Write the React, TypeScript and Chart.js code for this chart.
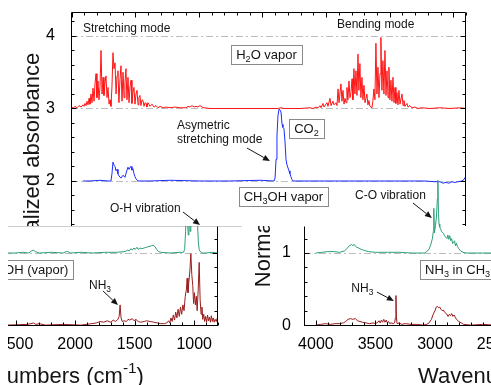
import React, { useEffect, useRef } from 'react';
import { Chart, registerables } from 'chart.js';

Chart.register(...registerables);

const FONT = '"Liberation Sans", Arial, Helvetica, sans-serif';

type Pair = [number, number];

// ---------- Top panel: H2O vapor (red) and CO2 (blue), wavenumber (cm-1) vs normalized absorbance ----------
const H2O_VAPOR: Pair[] = [
  [4005, 3.0], [3997, 3.02], [3989, 3.0], [3974, 3.03], [3958, 3.01], [3942, 3.04], [3926, 3.02], [3911, 3.05],
  [3903, 3.03], [3895, 3.07], [3887, 3.04], [3879, 3.1], [3871, 3.05], [3863, 3.14], [3856, 3.06], [3848, 3.2],
  [3840, 3.08], [3832, 3.28], [3824, 3.1], [3816, 3.35], [3808, 3.48], [3801, 3.15], [3793, 3.38], [3785, 3.12],
  [3777, 3.3], [3769, 3.8], [3761, 3.2], [3753, 3.43], [3746, 3.18], [3738, 3.35], [3730, 3.45], [3722, 3.15],
  [3714, 3.29], [3706, 3.06], [3698, 3.12], [3691, 3.03], [3683, 3.3], [3675, 3.77], [3667, 3.55], [3659, 3.63],
  [3651, 3.2], [3643, 3.45], [3636, 3.52], [3628, 3.08], [3620, 3.4], [3612, 3.59], [3604, 3.1], [3596, 3.5],
  [3588, 3.15], [3581, 3.35], [3573, 3.55], [3565, 3.12], [3557, 3.43], [3549, 3.08], [3541, 3.3], [3533, 3.39],
  [3526, 3.07], [3518, 3.22], [3510, 3.29], [3502, 3.06], [3494, 3.2], [3486, 3.25], [3478, 3.05], [3471, 3.15],
  [3463, 3.18], [3455, 3.04], [3447, 3.12], [3439, 3.11], [3431, 3.03], [3423, 3.08], [3415, 3.07], [3408, 3.02],
  [3400, 3.08], [3384, 3.03], [3368, 3.06], [3352, 3.02], [3337, 3.04], [3321, 3.01], [3305, 3.03], [3282, 3.01],
  [3258, 3.02], [3227, 3.01], [3188, 3.02], [3148, 3.01], [3101, 3.01], [3085, 3.03], [3070, 3.02], [3054, 3.04],
  [3038, 3.02], [3022, 3.03], [3007, 3.02], [2991, 3.04], [2975, 3.02], [2960, 3.01], [2912, 3.0], [2755, 3.0],
  [2598, 3.0], [2441, 3.0], [2378, 3.0], [2354, 3.01], [2331, 3.0], [2205, 3.0], [2126, 3.01], [2102, 3.0],
  [2079, 3.02], [2063, 3.01], [2048, 3.04], [2040, 3.01], [2024, 3.07], [2016, 3.02], [1993, 3.08], [1985, 3.03],
  [1969, 3.14], [1961, 3.04], [1946, 3.1], [1938, 3.05], [1922, 3.08], [1914, 3.04], [1906, 3.27], [1898, 3.08],
  [1883, 3.34], [1875, 3.1], [1867, 3.25], [1859, 3.06], [1851, 3.14], [1843, 3.08], [1836, 3.29], [1828, 3.12],
  [1820, 3.38], [1812, 3.15], [1804, 3.22], [1796, 3.41], [1789, 3.12], [1781, 3.55], [1773, 3.2], [1765, 3.52],
  [1757, 3.18], [1749, 3.75], [1742, 3.25], [1734, 3.62], [1726, 3.15], [1718, 3.43], [1710, 3.12], [1702, 3.32],
  [1694, 3.08], [1679, 3.2], [1671, 3.05], [1663, 3.11], [1655, 3.03], [1639, 3.01], [1632, 3.1], [1624, 3.27],
  [1616, 3.12], [1608, 3.9], [1600, 3.2], [1592, 3.57], [1584, 3.15], [1576, 3.48], [1569, 3.98], [1561, 3.25],
  [1553, 3.66], [1545, 3.2], [1537, 3.8], [1529, 3.18], [1521, 3.52], [1513, 3.15], [1506, 3.57], [1498, 3.12],
  [1490, 3.39], [1482, 3.1], [1474, 3.43], [1466, 3.08], [1458, 3.29], [1451, 3.07], [1443, 3.22], [1435, 3.05],
  [1427, 3.25], [1419, 3.06], [1403, 3.2], [1395, 3.04], [1388, 3.11], [1380, 3.03], [1364, 3.07], [1356, 3.02],
  [1341, 3.04], [1325, 3.01], [1301, 3.02], [1278, 3.0], [1246, 3.01], [1183, 3.0], [1105, 3.01], [1026, 3.0],
  [948, 3.01], [900, 3.0],
];

const CO2: Pair[] = [
  [3911, 2.0], [3856, 2.0], [3777, 2.01], [3714, 2.0], [3691, 2.0], [3683, 2.1], [3675, 2.26], [3667, 2.22],
  [3659, 2.2], [3651, 2.14], [3643, 2.16], [3636, 2.1], [3628, 2.07], [3612, 2.04], [3596, 2.08], [3581, 2.05],
  [3565, 2.15], [3557, 2.19], [3549, 2.16], [3541, 2.19], [3533, 2.2], [3526, 2.15], [3518, 2.17], [3510, 2.1],
  [3502, 2.06], [3494, 2.03], [3478, 2.0], [3384, 2.0], [3227, 2.01], [2991, 2.0], [2755, 2.0], [2519, 2.01],
  [2409, 2.0], [2401, 2.04], [2393, 2.3], [2386, 2.62], [2378, 2.9], [2370, 2.99], [2362, 2.98], [2354, 2.95],
  [2346, 2.78], [2339, 2.74], [2331, 2.72], [2323, 2.55], [2315, 2.3], [2307, 2.22], [2299, 2.18], [2291, 2.14],
  [2284, 2.1], [2276, 2.06], [2268, 2.02], [2260, 2.0], [2048, 2.0], [1812, 2.0], [1576, 2.0], [1341, 2.0],
  [1222, 2.0], [1144, 1.99], [1105, 1.99], [1081, 1.97], [1058, 1.98], [1034, 1.97], [1011, 1.99], [987, 1.98],
  [963, 1.99], [932, 2.0], [916, 2.02], [900, 2.07],
];

// ---------- Lower-left panel: CH3OH (vapor) (green) and NH3 (brown) ----------
const LL_METHANOL: Pair[] = [
  [2570, 1.0], [2500, 1.0], [2440, 1.01], [2390, 1.0], [2365, 1.03], [2350, 1.04], [2335, 1.02], [2300, 1.0],
  [2200, 1.01], [2100, 1.0], [2075, 1.02], [2060, 1.02], [2040, 1.0], [1950, 1.01], [1850, 1.0], [1750, 1.01],
  [1650, 1.01], [1580, 1.02], [1560, 1.04], [1545, 1.03], [1530, 1.06], [1520, 1.04], [1505, 1.07], [1495, 1.05],
  [1480, 1.08], [1470, 1.05], [1455, 1.07], [1440, 1.06], [1420, 1.07], [1400, 1.08], [1380, 1.09], [1360, 1.1],
  [1345, 1.11], [1330, 1.09], [1315, 1.05], [1300, 1.02], [1280, 1.01], [1200, 1.0], [1120, 1.01], [1090, 1.01],
  [1080, 1.05], [1072, 1.3], [1068, 1.7], [1062, 1.8], [1055, 1.4], [1050, 1.25], [1044, 1.35], [1040, 1.75],
  [1034, 1.3], [1028, 1.6], [1020, 1.45], [1012, 1.7], [1000, 1.6], [990, 1.5], [980, 1.55], [972, 1.4],
  [965, 1.15], [958, 1.05], [950, 1.02], [930, 1.0], [900, 1.0], [850, 1.01], [800, 1.0],
];

const LL_AMMONIA: Pair[] = [
  [2570, 0.0], [2400, 0.01], [2370, 0.02], [2350, 0.03], [2330, 0.01], [2300, 0.02], [2250, 0.0], [2100, 0.01],
  [1950, 0.0], [1860, 0.02], [1820, 0.03], [1790, 0.05], [1760, 0.04], [1730, 0.06], [1700, 0.04], [1680, 0.07],
  [1660, 0.05], [1640, 0.08], [1630, 0.12], [1622, 0.28], [1614, 0.1], [1605, 0.05], [1590, 0.06], [1570, 0.05],
  [1555, 0.08], [1540, 0.07], [1520, 0.09], [1505, 0.06], [1490, 0.08], [1470, 0.05], [1450, 0.04], [1420, 0.05],
  [1400, 0.06], [1370, 0.05], [1340, 0.04], [1310, 0.03], [1280, 0.02], [1250, 0.02], [1230, 0.03], [1215, 0.06],
  [1205, 0.03], [1195, 0.1], [1185, 0.05], [1175, 0.14], [1165, 0.07], [1155, 0.18], [1145, 0.1], [1135, 0.22],
  [1125, 0.12], [1115, 0.25], [1105, 0.15], [1095, 0.28], [1085, 0.2], [1075, 0.4], [1065, 0.5], [1059, 0.65],
  [1052, 0.45], [1045, 0.6], [1036, 0.75], [1028, 0.99], [1020, 0.7], [1012, 0.55], [1005, 0.3], [998, 0.45],
  [990, 0.28], [982, 0.4], [975, 0.2], [966, 0.5], [958, 0.87], [950, 0.35], [942, 0.15], [935, 0.25],
  [928, 0.08], [920, 0.15], [912, 0.05], [904, 0.12], [896, 0.04], [888, 0.14], [880, 0.06], [872, 0.11],
  [864, 0.04], [856, 0.13], [848, 0.05], [840, 0.1], [832, 0.04], [824, 0.08], [815, 0.05], [808, 0.09], [800, 0.06],
];

// ---------- Lower-right panel: NH3 in CH3OH (green / brown) ----------
const LR_METHANOL: Pair[] = [
  [4000, 1.0], [3950, 1.01], [3900, 1.02], [3850, 1.02], [3800, 1.01], [3760, 1.03], [3740, 1.06], [3720, 1.1],
  [3700, 1.12], [3690, 1.1], [3680, 1.12], [3660, 1.08], [3640, 1.07], [3620, 1.05], [3600, 1.04], [3580, 1.03],
  [3560, 1.02], [3500, 1.01], [3400, 1.01], [3300, 1.01], [3200, 1.0], [3090, 1.0], [3070, 1.02], [3050, 1.05],
  [3035, 1.12], [3022, 1.2], [3014, 1.3], [3010, 1.62], [3005, 1.28], [2996, 1.38], [2988, 1.5], [2980, 1.75],
  [2976, 2.01], [2971, 1.55], [2966, 1.4], [2960, 1.36], [2952, 1.33], [2944, 1.3], [2936, 1.28], [2928, 1.27],
  [2920, 1.24], [2910, 1.22], [2900, 1.2], [2892, 1.25], [2884, 1.19], [2876, 1.24], [2868, 1.17], [2860, 1.2],
  [2852, 1.13], [2844, 1.15], [2836, 1.17], [2828, 1.1], [2820, 1.14], [2812, 1.09], [2800, 1.06], [2785, 1.03],
  [2765, 1.01], [2740, 1.0], [2600, 1.0], [2500, 1.0],
];

const LR_AMMONIA: Pair[] = [
  [4000, 0.0], [3960, 0.01], [3920, 0.02], [3880, 0.01], [3840, 0.02], [3800, 0.02], [3770, 0.03], [3750, 0.05],
  [3730, 0.08], [3710, 0.09], [3690, 0.08], [3670, 0.09], [3650, 0.06], [3630, 0.05], [3610, 0.04], [3580, 0.03],
  [3550, 0.02], [3520, 0.03], [3500, 0.02], [3480, 0.04], [3470, 0.06], [3460, 0.03], [3450, 0.07], [3440, 0.04],
  [3430, 0.08], [3420, 0.04], [3410, 0.07], [3400, 0.03], [3390, 0.05], [3380, 0.02], [3370, 0.03], [3350, 0.02],
  [3340, 0.03], [3332, 0.1], [3328, 0.41], [3324, 0.1], [3318, 0.02], [3300, 0.03], [3280, 0.01], [3250, 0.02],
  [3200, 0.01], [3150, 0.01], [3100, 0.0], [3070, 0.01], [3050, 0.03], [3030, 0.08], [3015, 0.15], [3000, 0.2],
  [2990, 0.25], [2980, 0.26], [2970, 0.24], [2960, 0.25], [2950, 0.22], [2940, 0.2], [2930, 0.21], [2920, 0.18],
  [2905, 0.16], [2890, 0.12], [2880, 0.15], [2870, 0.13], [2860, 0.16], [2850, 0.12], [2840, 0.14], [2830, 0.11],
  [2820, 0.08], [2800, 0.05], [2780, 0.03], [2760, 0.01], [2700, 0.0], [2600, 0.01], [2500, 0.0],
];

// ---------- Axis ticks / reference levels ----------
const TOP_Y_TICKS = [0, 1, 2, 3, 4];
const LOWER_X_TICKS = [4000, 3500, 3000, 2500, 2000, 1500, 1000];
const LOWER_Y_TICKS = [0, 1];
const TOP_LEVELS = [2, 3, 4];
const LOWER_LEVELS = [0, 1];

const RED = '#ff1414';
const BLUE = '#1a2cff';
const GREEN = '#2b9f78';
const BROWN = '#9a1c1c';
const TEXT = '#141414';

// ---------- rich text helpers ----------
type Seg = { t: string; m: string };
function parseRich(s: string): Seg[] {
  const out: Seg[] = [];
  const re = /([_^])\{([^}]*)\}/g;
  let last = 0;
  let m: RegExpExecArray | null;
  while ((m = re.exec(s))) {
    if (m.index > last) out.push({ t: s.slice(last, m.index), m: '' });
    out.push({ t: m[2], m: m[1] });
    last = re.lastIndex;
  }
  if (last < s.length) out.push({ t: s.slice(last), m: '' });
  return out;
}
function richWidth(ctx: CanvasRenderingContext2D, segs: Seg[], size: number) {
  let w = 0;
  for (const sg of segs) {
    ctx.font = `${sg.m ? size * 0.7 : size}px ${FONT}`;
    w += ctx.measureText(sg.t).width;
  }
  return w;
}
function drawRich(ctx: CanvasRenderingContext2D, s: string, x: number, cy: number, size: number, align: string) {
  const segs = parseRich(s);
  const w = richWidth(ctx, segs, size);
  let cx = align === 'left' ? x : align === 'right' ? x - w : x - w / 2;
  const base = cy + size * 0.35;
  ctx.fillStyle = TEXT;
  ctx.textAlign = 'left';
  ctx.textBaseline = 'alphabetic';
  for (const sg of segs) {
    const fs = sg.m ? size * 0.7 : size;
    ctx.font = `${fs}px ${FONT}`;
    const by = sg.m === '_' ? base + size * 0.22 : sg.m === '^' ? base - size * 0.42 : base;
    ctx.fillText(sg.t, cx, by);
    cx += ctx.measureText(sg.t).width;
  }
  return w;
}
function drawArrow(ctx: CanvasRenderingContext2D, x1: number, y1: number, x2: number, y2: number) {
  const a = Math.atan2(y2 - y1, x2 - x1);
  const L = 7, W = 3;
  const bx = x2 - L * Math.cos(a), by = y2 - L * Math.sin(a);
  ctx.strokeStyle = TEXT;
  ctx.fillStyle = TEXT;
  ctx.lineWidth = 1;
  ctx.beginPath();
  ctx.moveTo(x1, y1);
  ctx.lineTo(bx, by);
  ctx.stroke();
  ctx.beginPath();
  ctx.moveTo(x2, y2);
  ctx.lineTo(bx + W * Math.sin(a), by - W * Math.cos(a));
  ctx.lineTo(bx - W * Math.sin(a), by + W * Math.cos(a));
  ctx.closePath();
  ctx.fill();
}

type Note = { kind: string; at: Pair; to?: Pair; label?: string; size?: number; align?: string };
type Decor = {
  levels: number[];
  sides: string[];
  xMinor: number; xMajor: number; yMinor: number; yMajor: number;
  notes: Note[];
  yTitle?: { text: string; dx: number; dy: number; clipTop?: boolean };
  xTitle?: { text: string; dx: number; dy: number };
};

function makeDecor(d: Decor) {
  return {
    id: 'decor',
    beforeDatasetsDraw(chart: any) {
      const { ctx, chartArea: ca, scales } = chart;
      ctx.save();
      ctx.strokeStyle = '#bdbdbd';
      ctx.lineWidth = 1;
      ctx.setLineDash([7, 3, 2, 3]);
      for (const lv of d.levels) {
        const py = Math.round(scales.y.getPixelForValue(lv)) + 0.5;
        ctx.beginPath();
        ctx.moveTo(ca.left, py);
        ctx.lineTo(ca.right, py);
        ctx.stroke();
      }
      ctx.restore();
    },
    afterDraw(chart: any) {
      const { ctx, chartArea: ca, scales } = chart;
      const xs = scales.x, ys = scales.y;
      const L = Math.round(ca.left) + 0.5, R = Math.round(ca.right) - 0.5;
      const T = Math.round(ca.top) + 0.5, B = Math.round(ca.bottom) - 0.5;
      ctx.save();
      ctx.setLineDash([]);
      ctx.strokeStyle = '#000';
      ctx.lineWidth = 1;
      ctx.beginPath();
      if (d.sides.includes('left')) { ctx.moveTo(L, T); ctx.lineTo(L, B + 0.5); }
      if (d.sides.includes('right')) { ctx.moveTo(R, T); ctx.lineTo(R, B + 0.5); }
      if (d.sides.includes('top')) { ctx.moveTo(L, T); ctx.lineTo(R, T); }
      if (d.sides.includes('bottom')) { ctx.moveTo(L, B); ctx.lineTo(R, B); }
      // inward ticks
      const isMajor = (v: number, step: number) => Math.abs(v / step - Math.round(v / step)) < 1e-6;
      for (let v = Math.ceil(xs.min / d.xMinor) * d.xMinor; v <= xs.max + 1e-9; v += d.xMinor) {
        const px = Math.round(xs.getPixelForValue(v)) + 0.5;
        const len = isMajor(v, d.xMajor) ? 5 : 3;
        if (d.sides.includes('top')) { ctx.moveTo(px, T); ctx.lineTo(px, T + len); }
        if (d.sides.includes('bottom')) { ctx.moveTo(px, B); ctx.lineTo(px, B - len); }
      }
      for (let i = Math.ceil(ys.min / d.yMinor); i * d.yMinor <= ys.max + 1e-9; i++) {
        const v = i * d.yMinor;
        const py = Math.round(ys.getPixelForValue(v)) + 0.5;
        const len = isMajor(v, d.yMajor) ? 5 : 3;
        if (d.sides.includes('left')) { ctx.moveTo(L, py); ctx.lineTo(L + len, py); }
        if (d.sides.includes('right')) { ctx.moveTo(R, py); ctx.lineTo(R - len, py); }
      }
      ctx.stroke();

      // annotations
      for (const n of d.notes) {
        const px = xs.getPixelForValue(n.at[0]);
        const py = ys.getPixelForValue(n.at[1]);
        const size = n.size || 12;
        if (n.kind === 'text') {
          drawRich(ctx, n.label || '', px, py, size, n.align || 'center');
        } else if (n.kind === 'box') {
          const w = richWidth(ctx, parseRich(n.label || ''), size);
          const bw = Math.round(w + 10), bh = Math.round(size + 6);
          const left = n.align === 'left' ? px : n.align === 'right' ? px - bw : px - bw / 2;
          const top = py - bh / 2;
          ctx.fillStyle = '#fff';
          ctx.fillRect(left, top, bw, bh);
          ctx.strokeStyle = '#8a8a8a';
          ctx.lineWidth = 1;
          ctx.strokeRect(Math.round(left) + 0.5, Math.round(top) + 0.5, bw, bh);
          drawRich(ctx, n.label || '', left + bw / 2, py, size, 'center');
        } else if (n.kind === 'arrow' && n.to) {
          drawArrow(ctx, px, py, xs.getPixelForValue(n.to[0]), ys.getPixelForValue(n.to[1]));
        }
      }

      // axis titles
      if (d.yTitle) {
        ctx.save();
        if (d.yTitle.clipTop) {
          ctx.beginPath();
          ctx.rect(0, ca.top, chart.width, chart.height - ca.top);
          ctx.clip();
        }
        ctx.translate(ca.left + d.yTitle.dx, (ca.top + ca.bottom) / 2 + d.yTitle.dy);
        ctx.rotate(-Math.PI / 2);
        drawRich(ctx, d.yTitle.text, 0, 0, 22, 'center');
        ctx.restore();
      }
      if (d.xTitle) {
        drawRich(ctx, d.xTitle.text, (ca.left + ca.right) / 2 + d.xTitle.dx, ca.bottom + d.xTitle.dy, 22, 'center');
      }
      ctx.restore();
    },
  };
}

const toXY = (pairs: Pair[]) => pairs.map(([x, y]) => ({ x, y }));

function line(data: Pair[], color: string, extra: any = {}) {
  return {
    data: toXY(data),
    borderColor: color,
    backgroundColor: color,
    borderWidth: 1,
    pointRadius: 0,
    tension: 0,
    fill: false,
    ...extra,
  };
}

function makeConfig(opts: any) {
  return {
    type: 'line',
    data: { datasets: opts.datasets },
    options: {
      responsive: false,
      animation: false,
      events: [],
      layout: { autoPadding: false, padding: { top: opts.padTop, right: opts.padRight, left: 0, bottom: 0 } },
      plugins: { legend: { display: false }, tooltip: { enabled: false }, title: { display: false } },
      scales: {
        x: {
          type: 'linear',
          reverse: true,
          min: opts.xMin,
          max: opts.xMax,
          afterBuildTicks: (s: any) => {
            if (opts.xTicks) s.ticks = opts.xTicks.map((v: number) => ({ value: v }));
          },
          afterFit: (s: any) => {
            s.height = opts.xHeight;
            s.paddingLeft = 0;
            s.paddingRight = 0;
          },
          ticks: {
            display: !!opts.xTicks,
            color: '#000',
            font: { family: FONT, size: 16 },
            padding: 1,
            maxRotation: 0,
            autoSkip: false,
            callback: (v: any) => String(v),
          },
          grid: { display: false },
          border: { display: false },
        },
        y: {
          type: 'linear',
          min: opts.yMin,
          max: opts.yMax,
          afterBuildTicks: (s: any) => { s.ticks = opts.yTicks.map((v: number) => ({ value: v })); },
          afterFit: (s: any) => {
            s.width = opts.yWidth;
            s.paddingTop = 0;
            s.paddingBottom = 0;
          },
          ticks: {
            color: '#000',
            font: { family: FONT, size: 16 },
            padding: opts.yPad,
            autoSkip: false,
            callback: (v: any) => String(v),
          },
          grid: { display: false },
          border: { display: false },
        },
      },
    },
    plugins: [makeDecor(opts.decor)],
  };
}

function ChartCanvas({ left, top, width, height, build }: any) {
  const ref = useRef<HTMLCanvasElement>(null);
  useEffect(() => {
    const chart = new Chart(ref.current as HTMLCanvasElement, build() as any);
    return () => chart.destroy();
  }, []);
  return (
    <canvas
      ref={ref}
      width={width}
      height={height}
      style={{ position: 'absolute', left, top, width, height, display: 'block' }}
    />
  );
}

const buildTop = () =>
  makeConfig({
    datasets: [line(H2O_VAPOR, RED), line(CO2, BLUE)],
    xMin: 900, xMax: 4005, xTicks: null, xHeight: 59,
    yMin: 0, yMax: 4.331, yTicks: TOP_Y_TICKS, yWidth: 71, yPad: 8,
    padTop: 12, padRight: 25,
    decor: {
      levels: TOP_LEVELS,
      sides: ['left', 'right', 'top', 'bottom'],
      xMinor: 100, xMajor: 500, yMinor: 0.2, yMajor: 1,
      notes: [
        { kind: 'text', at: [3911, 4.11], label: 'Stretching mode', align: 'left' },
        { kind: 'text', at: [1914, 4.166], label: 'Bending mode', align: 'left' },
        { kind: 'box', at: [2468, 3.75], label: 'H_{2}O vapor', size: 13 },
        { kind: 'text', at: [3172, 2.772], label: 'Asymetric', align: 'left' },
        { kind: 'text', at: [3172, 2.579], label: 'stretching mode', align: 'left' },
        { kind: 'arrow', at: [2622, 2.455], to: [2441, 2.276] },
        { kind: 'box', at: [2154, 2.724], label: 'CO_{2}', size: 13 },
        { kind: 'box', at: [2335, 1.786], label: 'CH_{3}OH vapor', size: 13 },
      ],
      yTitle: { text: 'Normalized absorbance', dx: -40, dy: 0 },
    },
  });

const buildLowerLeft = () =>
  makeConfig({
    datasets: [line(LL_METHANOL, GREEN), line(LL_AMMONIA, BROWN)],
    xMin: 800, xMax: 4100, xTicks: LOWER_X_TICKS, xHeight: 59,
    yMin: -0.0125, yMax: 1.375, yTicks: LOWER_Y_TICKS, yWidth: 45, yPad: 5,
    padTop: 31, padRight: 24,
    decor: {
      levels: LOWER_LEVELS,
      sides: ['left', 'right', 'bottom'],
      xMinor: 100, xMajor: 500, yMinor: 0.2, yMajor: 1,
      notes: [
        { kind: 'text', at: [1707, 1.625], label: 'O-H vibration', align: 'left' },
        { kind: 'arrow', at: [1094, 1.569], to: [951, 1.389] },
        { kind: 'box', at: [2015, 0.771], label: 'CH_{3}OH (vapor)', size: 13, align: 'right' },
        { kind: 'text', at: [1791, 0.557], label: 'NH_{3}' },
        { kind: 'arrow', at: [1766, 0.474], to: [1640, 0.279] },
      ],
      xTitle: { text: 'Wavenumbers (cm^{-1})', dx: 20, dy: 49 },
    },
  });

const buildLowerRight = () =>
  makeConfig({
    datasets: [line(LR_METHANOL, GREEN, { clip: false }), line(LR_AMMONIA, BROWN)],
    xMin: 800, xMax: 4100, xTicks: LOWER_X_TICKS, xHeight: 59,
    yMin: -0.0125, yMax: 1.375, yTicks: LOWER_Y_TICKS, yWidth: 62, yPad: 5,
    padTop: 56, padRight: 20,
    decor: {
      levels: LOWER_LEVELS,
      sides: ['left', 'right', 'bottom'],
      xMinor: 100, xMajor: 500, yMinor: 0.2, yMajor: 1,
      notes: [
        { kind: 'text', at: [3374, 1.805], label: 'C-O vibration' },
        { kind: 'arrow', at: [3185, 1.694], to: [3026, 1.486] },
        { kind: 'text', at: [3610, 0.515], label: 'NH_{3}' },
        { kind: 'arrow', at: [3488, 0.459], to: [3345, 0.335] },
        { kind: 'box', at: [3127, 0.771], label: 'NH_{3} in CH_{3}OH', size: 13, align: 'left' },
      ],
      yTitle: { text: 'Normalized absorbance', dx: -42, dy: -105, clipTop: true },
      xTitle: { text: 'Wavenumbers (cm^{-1})', dx: 20, dy: 49 },
    },
  });

export default function App() {
  return (
    <div style={{ position: 'absolute', left: 0, top: 0, width: 491, height: 385, overflow: 'hidden', background: '#fff' }}>
      <ChartCanvas left={0} top={0} width={491} height={385} build={buildTop} />
      <div style={{ position: 'absolute', left: 8, top: 195, width: 234, height: 190, overflow: 'hidden' }}>
        <div style={{ position: 'absolute', left: 0, top: 31, right: 0, bottom: 0, background: '#fff', borderTop: '1px solid #cfcfcf' }} />
        <ChartCanvas left={-228} top={0} width={462} height={190} build={buildLowerLeft} />
      </div>
      <div style={{ position: 'absolute', left: 242, top: 170, width: 249, height: 215, overflow: 'hidden' }}>
        <div style={{ position: 'absolute', left: 0, top: 56, right: 0, bottom: 0, background: '#fff' }} />
        <ChartCanvas left={0} top={0} width={475} height={215} build={buildLowerRight} />
      </div>
    </div>
  );
}
